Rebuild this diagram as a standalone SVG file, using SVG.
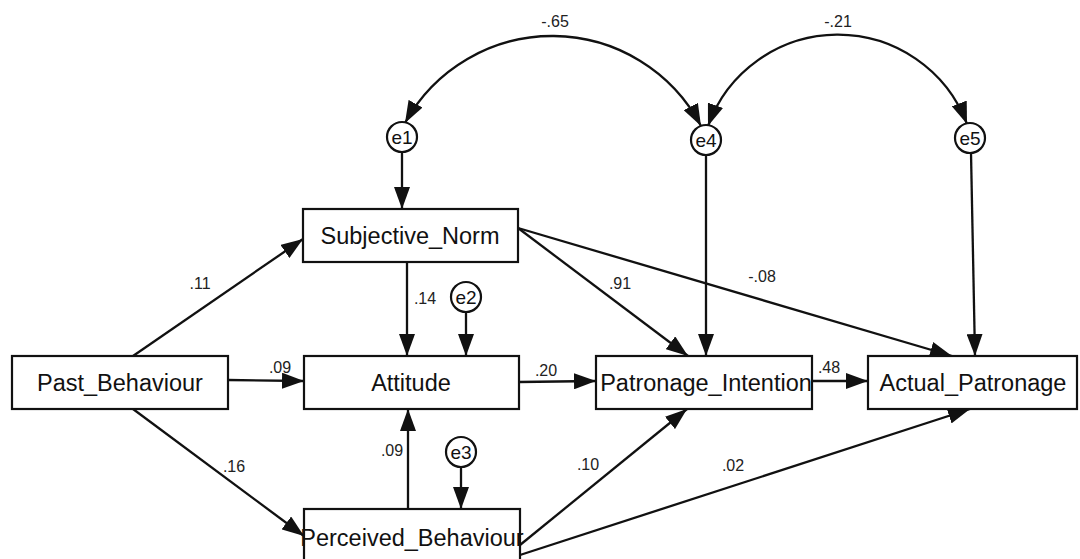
<svg xmlns="http://www.w3.org/2000/svg" width="1080" height="559" viewBox="0 0 1080 559">
<defs>
<marker id="ah" markerUnits="userSpaceOnUse" markerWidth="23" markerHeight="16" refX="22" refY="8" orient="auto-start-reverse">
<path d="M0,0 L22,8 L0,16 z" fill="#111"/>
</marker>
<style>
.box{fill:#fff;stroke:#111;stroke-width:2.2}
.err{fill:#fff;stroke:#111;stroke-width:2.2}
.lbl{font-family:"Liberation Sans",Arial,sans-serif;font-size:23.5px;fill:#111;text-anchor:middle;dominant-baseline:central}
.elbl{font-family:"Liberation Sans",Arial,sans-serif;font-size:19px;fill:#111;text-anchor:middle;dominant-baseline:central}
.num{font-family:"Liberation Sans",Arial,sans-serif;font-size:16px;fill:#222;text-anchor:middle;dominant-baseline:central}
.c{fill:none;stroke:#111;stroke-width:2.3;marker-end:url(#ah)}
.bi{fill:none;stroke:#111;stroke-width:2.3;marker-start:url(#ah);marker-end:url(#ah)}
</style>
</defs>
<rect width="1080" height="559" fill="#fff"/>
<g id="connectors">
<path class="bi" d="M405,123 A168,168 0 0 1 701,126"/>
<path class="bi" d="M708,126 A138,138 0 0 1 967,124"/>
<line class="c" x1="402" y1="152" x2="402" y2="209"/>
<line class="c" x1="706" y1="155" x2="706" y2="356"/>
<line class="c" x1="971" y1="153" x2="975" y2="356"/>
<line class="c" x1="133" y1="356" x2="303" y2="239"/>
<line class="c" x1="228" y1="380" x2="304" y2="381"/>
<line class="c" x1="133" y1="409" x2="304" y2="536"/>
<line class="c" x1="407" y1="262" x2="407" y2="356"/>
<line class="c" x1="466" y1="312" x2="466" y2="356"/>
<line class="c" x1="518" y1="228" x2="688" y2="356"/>
<line class="c" x1="518" y1="228" x2="952" y2="356"/>
<line class="c" x1="519" y1="382" x2="596" y2="381"/>
<line class="c" x1="812" y1="381" x2="868" y2="381"/>
<line class="c" x1="408" y1="509" x2="408" y2="409"/>
<line class="c" x1="461" y1="467" x2="461" y2="509"/>
<line class="c" x1="520" y1="545" x2="687" y2="409"/>
<line class="c" x1="520" y1="555" x2="970" y2="409"/>
</g>
<g id="labels">
<text class="num" x="555" y="21">-.65</text>
<text class="num" x="838" y="21">-.21</text>
<text class="num" x="200" y="283">.11</text>
<text class="num" x="280" y="367">.09</text>
<text class="num" x="234" y="466">.16</text>
<text class="num" x="425" y="298">.14</text>
<text class="num" x="620" y="283">.91</text>
<text class="num" x="762" y="276">-.08</text>
<text class="num" x="546" y="370">.20</text>
<text class="num" x="829" y="367">.48</text>
<text class="num" x="392" y="450">.09</text>
<text class="num" x="588" y="464">.10</text>
<text class="num" x="733" y="465">.02</text>
</g>
<g id="e1"><circle class="err" cx="402" cy="137" r="15"/><text class="elbl" x="402" y="137">e1</text></g>
<g id="e4"><circle class="err" cx="706" cy="140" r="15"/><text class="elbl" x="706" y="140">e4</text></g>
<g id="e5"><circle class="err" cx="970" cy="138" r="15"/><text class="elbl" x="970" y="138">e5</text></g>
<g id="e2"><circle class="err" cx="466" cy="297" r="15"/><text class="elbl" x="466" y="297">e2</text></g>
<g id="e3"><circle class="err" cx="461" cy="452" r="15"/><text class="elbl" x="461" y="452">e3</text></g>
<g id="Subjective_Norm"><rect class="box" x="303" y="209" width="215" height="53"/><text class="lbl" x="410" y="236">Subjective_Norm</text></g>
<g id="Past_Behaviour"><rect class="box" x="12" y="356" width="216" height="53"/><text class="lbl" x="120" y="383">Past_Behaviour</text></g>
<g id="Attitude"><rect class="box" x="304" y="356" width="215" height="53"/><text class="lbl" x="411" y="383">Attitude</text></g>
<g id="Patronage_Intention"><rect class="box" x="596" y="356" width="216" height="53"/><text class="lbl" x="706" y="383">Patronage_Intention</text></g>
<g id="Actual_Patronage"><rect class="box" x="868" y="356" width="209" height="53"/><text class="lbl" x="973" y="383">Actual_Patronage</text></g>
<g id="Perceived_Behaviour"><rect class="box" x="304" y="509" width="216" height="60"/><text class="lbl" x="412" y="538">Perceived_Behaviour</text></g>
</svg>
